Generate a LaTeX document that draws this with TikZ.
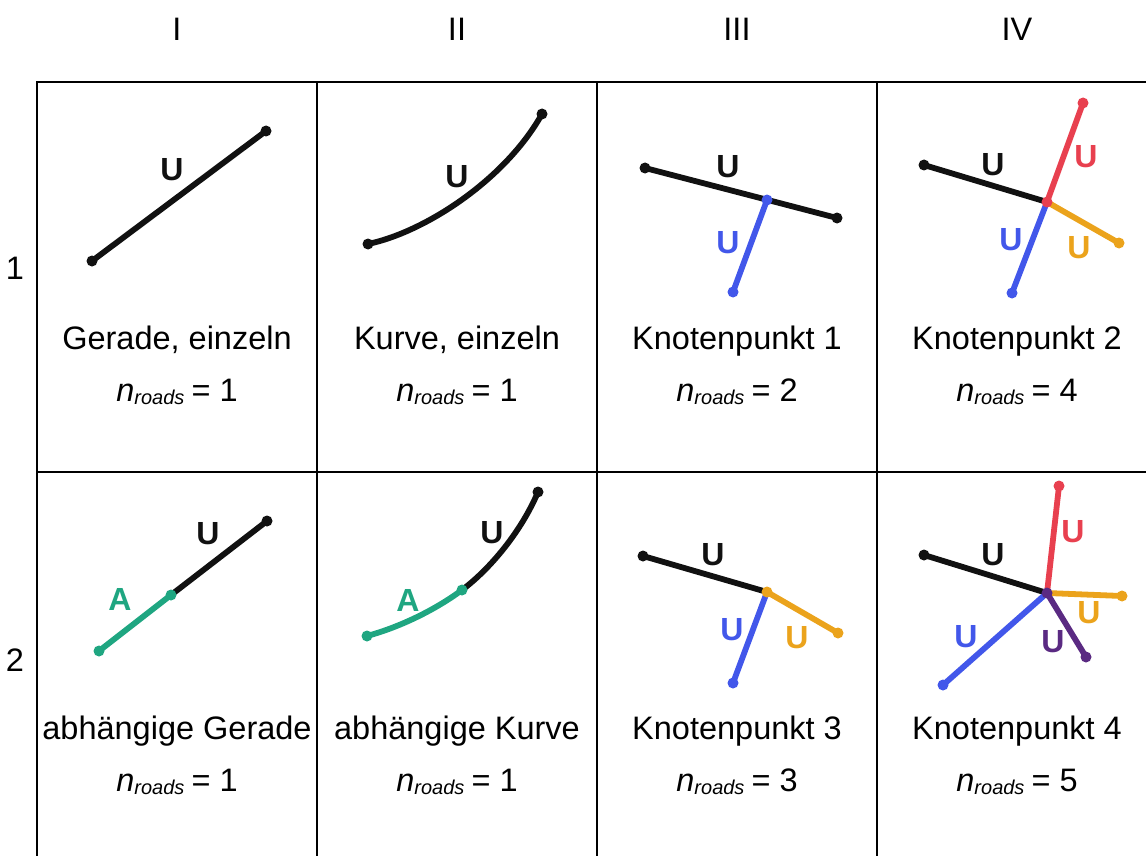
\documentclass[tikz,border=0pt]{standalone}
\usepackage{fontspec}
\setmainfont{Liberation Sans}
\definecolor{RoadBlack}{HTML}{111111}
\definecolor{RoadBlue}{HTML}{4257EA}
\definecolor{RoadRed}{HTML}{E8404F}
\definecolor{RoadOrange}{HTML}{EBA31C}
\definecolor{RoadGreen}{HTML}{1FA681}
\definecolor{RoadPurple}{HTML}{5A2A82}
\newcommand\nroads[1]{\textit{n}\raisebox{-3pt}{\fontsize{20}{20}\selectfont\itshape roads}\hspace{-2pt} = #1}
\tikzset{
  grid line/.style={line width=2.8pt,line cap=rect},
  caption/.style={font=\fontsize{32.5}{36}\selectfont,anchor=base,inner sep=0pt},
  road/.style={line width=5.8pt,line cap=round},
  road tag/.style={font=\fontsize{32}{32}\selectfont\bfseries,inner sep=0pt}
}

\begin{document}
\begin{tikzpicture}[x=1pt,y=-1pt]
  \useasboundingbox (0,0) rectangle (1146,856);
  % table lines
  \foreach \x in {37,317,597,877}
    \draw[grid line] (\x,82) -- (\x,870);
  \foreach \y in {82,472}
    \draw[grid line] (37,\y) -- (1160,\y);
  % column and row numbers
  \foreach \x/\num in {177/I,457/II,737/III,1017/IV}
    \node[caption] (col\num) at (\x,41) {\num};
  \node[caption] (row1) at (15,279) {1};
  \node[caption] (row2) at (15,671) {2};
  % captions
  \foreach \x/\name/\n [count=\i] in {177/{Gerade, einzeln}/1,457/{Kurve, einzeln}/1,737/Knotenpunkt 1/2,1017/Knotenpunkt 2/4}{
    \node[caption] (title1\i) at (\x,349) {\name};
    \node[caption] (count1\i) at (\x,401) {\nroads{\n}};
  }
  \foreach \x/\name/\n [count=\i] in {177/abhängige Gerade/1,457/abhängige Kurve/1,737/Knotenpunkt 3/3,1017/Knotenpunkt 4/5}{
    \node[caption] (title2\i) at (\x,739) {\name};
    \node[caption] (count2\i) at (\x,791) {\nroads{\n}};
  }

  % row 1
  \coordinate (a1) at (92,261);
  \coordinate (a2) at (266,131);
  \draw[road,RoadBlack] (a1) -- (a2);
  \node[road tag,RoadBlack] (a tag) at (172,170) {U};

  \coordinate (b1) at (368,244);
  \coordinate (b2) at (542,114);
  \draw[road,RoadBlack] (b1) .. controls (425,232) and (505,180) .. (b2);
  \node[road tag,RoadBlack] (b tag) at (457,177) {U};

  \coordinate (c1) at (645,168);
  \coordinate (c2) at (837,218);
  \coordinate (cj) at (767,200);
  \coordinate (c3) at (733,292);
  \draw[road,RoadBlack] (c1) -- (c2);
  \draw[road,RoadBlue] (cj) -- (c3);
  \node[road tag,RoadBlack] (c tag1) at (728,167) {U};
  \node[road tag,RoadBlue] (c tag2) at (728,243) {U};

  \coordinate (d1) at (924,165);
  \coordinate (dj) at (1047,202);
  \coordinate (d2) at (1083,103);
  \coordinate (d3) at (1119,243);
  \coordinate (d4) at (1012,293);
  \draw[road,RoadBlack] (d1) -- (dj);
  \draw[road,RoadRed] (dj) -- (d2);
  \draw[road,RoadOrange] (dj) -- (d3);
  \draw[road,RoadBlue] (dj) -- (d4);
  \node[road tag,RoadBlack] (d tag1) at (993,165) {U};
  \node[road tag,RoadRed] (d tag2) at (1086,157) {U};
  \node[road tag,RoadOrange] (d tag3) at (1079,248) {U};
  \node[road tag,RoadBlue] (d tag4) at (1011,240) {U};

  % row 2
  \coordinate (e1) at (99,651);
  \coordinate (ej) at (171,595);
  \coordinate (e2) at (267,521);
  \draw[road,RoadGreen] (e1) -- (ej);
  \draw[road,RoadBlack] (ej) -- (e2);
  \node[road tag,RoadBlack] (e tag1) at (208,534) {U};
  \node[road tag,RoadGreen] (e tag2) at (120,599) {A};

  \coordinate (f1) at (367,636);
  \coordinate (fj) at (462,590);
  \coordinate (f2) at (538,492);
  \draw[road,RoadGreen] (f1) .. controls (400,627) and (435,610) .. (fj);
  \draw[road,RoadBlack] (fj) .. controls (490,569) and (521,532) .. (f2);
  \node[road tag,RoadBlack] (f tag1) at (492,533) {U};
  \node[road tag,RoadGreen] (f tag2) at (408,600) {A};

  \coordinate (h1) at (643,556);
  \coordinate (hj) at (767,592);
  \coordinate (h2) at (838,633);
  \coordinate (h3) at (733,683);
  \draw[road,RoadBlack] (h1) -- (hj);
  \draw[road,RoadOrange] (hj) -- (h2);
  \draw[road,RoadBlue] (hj) -- (h3);
  \node[road tag,RoadBlack] (h tag1) at (713,555) {U};
  \node[road tag,RoadOrange] (h tag2) at (797,638) {U};
  \node[road tag,RoadBlue] (h tag3) at (732,630) {U};

  \coordinate (k1) at (924,555);
  \coordinate (kj) at (1047,593);
  \coordinate (k2) at (1059,486);
  \coordinate (k3) at (1122,596);
  \coordinate (k4) at (1086,657);
  \coordinate (k5) at (943,685);
  \draw[road,RoadBlack] (k1) -- (kj);
  \draw[road,RoadRed] (kj) -- (k2);
  \draw[road,RoadOrange] (kj) -- (k3);
  \draw[road,RoadPurple] (kj) -- (k4);
  \draw[road,RoadBlue] (kj) -- (k5);
  \node[road tag,RoadBlack] (k tag1) at (993,555) {U};
  \node[road tag,RoadRed] (k tag2) at (1073,532) {U};
  \node[road tag,RoadOrange] (k tag3) at (1089,613) {U};
  \node[road tag,RoadPurple] (k tag4) at (1053,642) {U};
  \node[road tag,RoadBlue] (k tag5) at (966,637) {U};

  % end points and junctions
  \foreach \p/\col in {a1/RoadBlack,a2/RoadBlack,b1/RoadBlack,b2/RoadBlack,
      c1/RoadBlack,c2/RoadBlack,c3/RoadBlue,cj/RoadBlue,
      d1/RoadBlack,d2/RoadRed,d3/RoadOrange,d4/RoadBlue,dj/RoadRed,
      e1/RoadGreen,e2/RoadBlack,ej/RoadGreen,
      f1/RoadGreen,f2/RoadBlack,fj/RoadGreen,
      h1/RoadBlack,h2/RoadOrange,h3/RoadBlue,hj/RoadOrange,
      k1/RoadBlack,k2/RoadRed,k3/RoadOrange,k4/RoadPurple,k5/RoadBlue,kj/RoadPurple}
    \fill[\col] (\p) circle (5.5pt);
\end{tikzpicture}
\end{document}
